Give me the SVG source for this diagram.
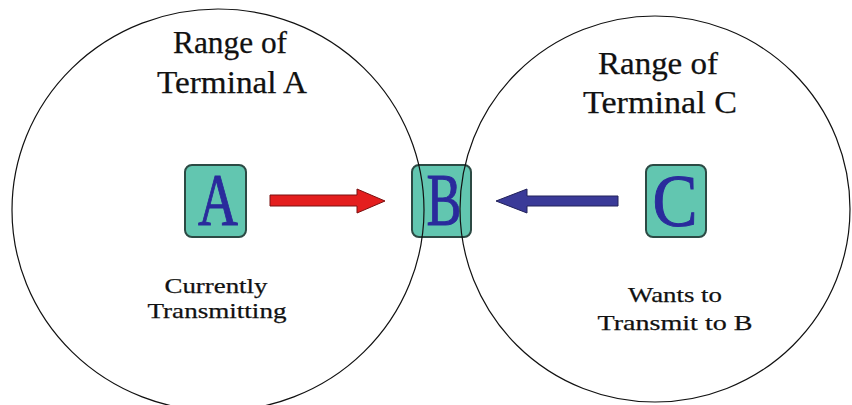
<svg xmlns="http://www.w3.org/2000/svg" width="852" height="405" viewBox="0 0 852 405">
<style>
.box{fill:#62c6b0;stroke:#2c4a44;stroke-width:2}
.let{font-family:"Liberation Serif","Times New Roman",serif;font-size:74px;fill:#2a2a9c;stroke:#2a2a9c;stroke-width:1;text-anchor:middle}
.lbl{font-family:"Liberation Serif","Times New Roman",serif;fill:#111;stroke:#111;stroke-width:0.25;text-anchor:middle}
.rng{fill:none;stroke:#111;stroke-width:1.2}
</style>
<rect width="852" height="405" fill="#fff"/>
<g id="nodeA"><rect class="box" x="185" y="165" width="61" height="72" rx="7"/><text class="let" x="218" y="225" textLength="40" lengthAdjust="spacingAndGlyphs">A</text></g>
<g id="nodeB"><rect class="box" x="412" y="165" width="59" height="72" rx="7"/><text class="let" x="444" y="225" textLength="35" lengthAdjust="spacingAndGlyphs">B</text></g>
<g id="nodeC"><rect class="box" x="646" y="165" width="60" height="72" rx="7"/><text class="let" x="675" y="226" textLength="45" lengthAdjust="spacingAndGlyphs">C</text></g>
<g id="connectors">
<polygon points="270,195 357,195 357,189 385,201 357,213 357,206 270,206" fill="#e41e1e" stroke="#7a1010" stroke-width="1"/>
<polygon points="618,196 527,196 527,189 496,201 527,213 527,206 618,206" fill="#3a3a98" stroke="#22225a" stroke-width="1"/>
</g>
<g id="rangeA"><ellipse class="rng" cx="218" cy="210" rx="206" ry="201"/></g>
<g id="rangeC"><ellipse class="rng" cx="655" cy="209" rx="195" ry="193"/></g>
<g id="labels">
<text class="lbl" font-size="31" x="230" y="53" textLength="114" lengthAdjust="spacingAndGlyphs">Range of</text>
<text class="lbl" font-size="31" x="232" y="93" textLength="150" lengthAdjust="spacingAndGlyphs">Terminal A</text>
<text class="lbl" font-size="31" x="658" y="74" textLength="120" lengthAdjust="spacingAndGlyphs">Range of</text>
<text class="lbl" font-size="31" x="660" y="113" textLength="154" lengthAdjust="spacingAndGlyphs">Terminal C</text>
<text class="lbl" font-size="22" x="216" y="293" textLength="103" lengthAdjust="spacingAndGlyphs">Currently</text>
<text class="lbl" font-size="22" x="217" y="318" textLength="139" lengthAdjust="spacingAndGlyphs">Transmitting</text>
<text class="lbl" font-size="22" x="675" y="302" textLength="94" lengthAdjust="spacingAndGlyphs">Wants to</text>
<text class="lbl" font-size="22" x="675" y="330" textLength="155" lengthAdjust="spacingAndGlyphs">Transmit to B</text>
</g>
</svg>
